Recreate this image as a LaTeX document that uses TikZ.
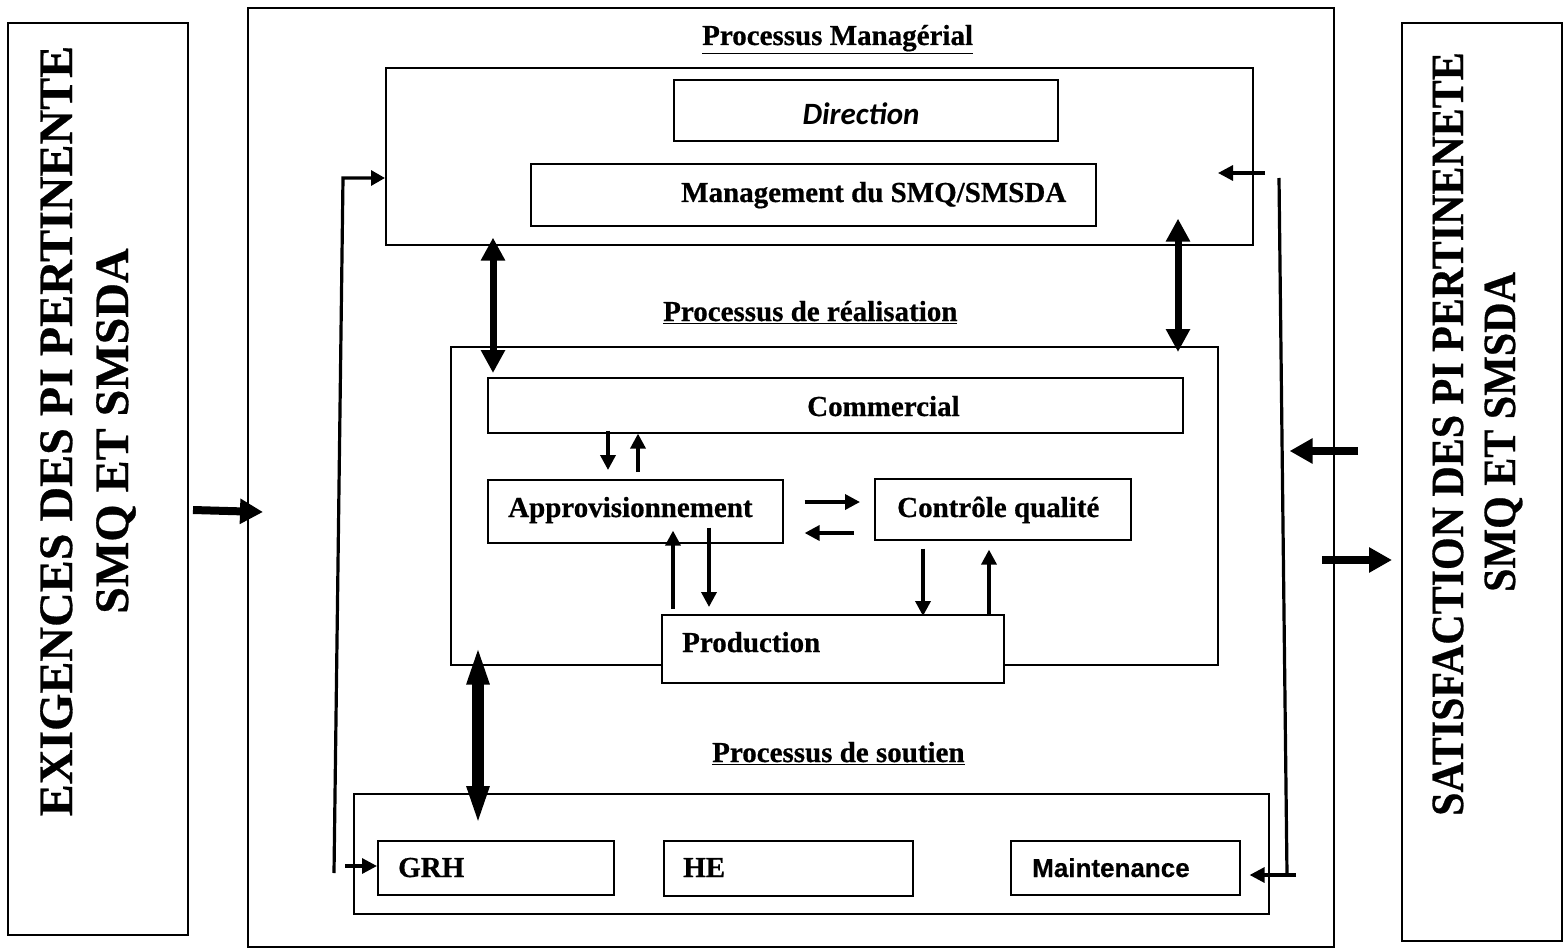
\documentclass[tikz,border=0pt]{standalone}
\usepackage{fontspec}
\setmainfont{Liberation Serif}[BoldFeatures={FakeBold=0.6}]
\newfontfamily\armsans{Liberation Sans}[BoldFeatures={FakeBold=0.4}]
\newfontfamily\calfont{Carlito}
\usetikzlibrary{arrows.meta}

\tikzset{
  frame/.style={draw, line width=1.6pt, fill=white, inner sep=0pt, anchor=north west},
  sideframe/.style={frame, line width=2.4pt},
  lbl/.style={font=\fontsize{29}{34}\selectfont\bfseries, inner sep=0pt, anchor=base west},
  sidetxt/.style={font=\fontsize{48}{56}\selectfont\bfseries, inner sep=0pt, anchor=base, rotate=90},
  sidetxtr/.style={font=\fontsize{42}{50}\selectfont\bfseries, inner sep=0pt, anchor=base, rotate=90},
  sarr/.style={line width=3.5pt, -{Triangle[length=15pt,width=15pt]}},
  farr/.style={line width=3.2pt, -{Triangle[length=15pt,width=15pt]}},
  fbline/.style={line width=3.2pt},
  marr/.style={line width=8pt, -{Triangle[length=23pt,width=24pt]}},
  dblarr/.style={line width=7pt, {Triangle[length=23pt,width=23pt]}-{Triangle[length=23pt,width=23pt]}},
  xdblarr/.style={line width=12pt, {Triangle[length=40pt,width=20pt]}-{Triangle[length=40pt,width=20pt]}},
}

\begin{document}
\begin{tikzpicture}[x=1pt,y=-1pt]
\useasboundingbox (0,0) rectangle (1568,952);

% outer frames
\node[sideframe, minimum width=180pt, minimum height=912pt] (left) at (7,22) {};
\node[frame, minimum width=1086pt, minimum height=939pt] (main) at (247,7) {};
\node[sideframe, minimum width=160pt, minimum height=918pt] (right) at (1401,22) {};

% managerial processes
\node[frame, minimum width=867pt, minimum height=177pt] (mgr) at (385,67) {};
\node[frame, minimum width=384pt, minimum height=61pt] (dir) at (673,79) {};
\node[frame, minimum width=565pt, minimum height=62pt] (mgmt) at (530,163) {};

% realisation processes
\node[frame, minimum width=767pt, minimum height=318pt] (real) at (450,346) {};
\node[frame, minimum width=695pt, minimum height=55pt] (comm) at (487,377) {};
\node[frame, minimum width=295pt, minimum height=63pt] (appro) at (487,479) {};
\node[frame, minimum width=256pt, minimum height=61pt] (cq) at (874,478) {};
\node[frame, minimum width=342pt, minimum height=68pt] (prod) at (661,614) {};

% support processes
\node[frame, minimum width=915pt, minimum height=120pt] (sout) at (353,793) {};
\node[frame, minimum width=236pt, minimum height=54pt] (grh) at (377,840) {};
\node[frame, minimum width=249pt, minimum height=55pt] (he) at (663,840) {};
\node[frame, minimum width=229pt, minimum height=54pt] (maint) at (1010,840) {};

% side texts
\node[sidetxt] (exig1) at (72,431) {EXIGENCES DES PI PERTINENTE};
\node[sidetxt] (exig2) at (128,431) {SMQ ET SMSDA};
\node[sidetxtr] (sat1) at (1463,434) {\scalebox{1}[1.1]{SATISFACTION DES PI PERTINENETE}};
\node[sidetxtr] (sat2) at (1515,432) {\scalebox{1}[1.1]{SMQ ET SMSDA}};

% titles and labels
\node[lbl] (tmgr) at (702,45) {\underline{Processus Managérial}};
\node[lbl, anchor=base, font=\fontsize{31}{36}\selectfont\calfont\bfseries\itshape] (tdir) at (861,125) {Direction};
\node[lbl] (tmgmt) at (681,202) {Management du SMQ/SMSDA};
\node[lbl] (treal) at (663,321) {\underline{Processus de réalisation}};
\node[lbl] (tcomm) at (807,416) {Commercial};
\node[lbl] (tappro) at (508,517) {Approvisionnement};
\node[lbl] (tcq) at (897,517) {Contrôle qualité};
\node[lbl] (tprod) at (682,652) {Production};
\node[lbl] (tsout) at (712,762) {\underline{Processus de soutien}};
\node[lbl] (tgrh) at (398,877) {GRH};
\node[lbl] (the) at (683,877) {HE};
\node[lbl, font=\fontsize{26}{30}\selectfont\armsans\bfseries] (tmaint) at (1032,877) {Maintenance};

% column helpers
\coordinate (cA) at (493,0);
\coordinate (cB) at (1178,0);
\coordinate (cC) at (478,0);

% links between process groups
\draw[dblarr] ([yshift=8pt]mgr.south -| cA) -- ([yshift=4pt]comm.north -| cA);
\draw[dblarr] ([yshift=27pt]mgr.south -| cB) -- ([yshift=-6pt]real.north -| cB);
\draw[xdblarr] ([yshift=21pt]real.south -| cC) -- ([yshift=-33pt]sout.north -| cC);

% commercial <-> approvisionnement
\draw[sarr] ([xshift=121pt,yshift=3pt]comm.south west) -- ([xshift=121pt,yshift=9pt]appro.north west);
\draw[sarr] ([xshift=151pt,yshift=7pt]appro.north west) -- ([xshift=151pt]comm.south west);

% approvisionnement <-> controle qualite
\draw[sarr] ([xshift=21pt,yshift=-23pt]appro.north east) -- ([xshift=-14pt,yshift=-24pt]cq.north west);
\draw[sarr] ([xshift=-20pt,yshift=-55pt]cq.north west) -- ([xshift=21pt,yshift=-54pt]appro.north east);

% approvisionnement <-> production
\draw[sarr] ([xshift=12pt,yshift=5pt]prod.north west) -- ([xshift=186pt,yshift=13pt]appro.south west);
\draw[sarr] ([xshift=222pt,yshift=16pt]appro.south west) -- ([xshift=48pt,yshift=7pt]prod.north west);

% controle qualite <-> production
\draw[sarr] ([xshift=49pt,yshift=-8pt]cq.south west) -- ([xshift=262pt,yshift=-2pt]prod.north west);
\draw[sarr] ([xshift=328pt]prod.north west) -- ([xshift=115pt,yshift=-9pt]cq.south west);

% feedback loop on the left
\coordinate (fl1) at (334,873);
\coordinate (fl2) at (343,178);
\coordinate (fl3) at (345,866);
\draw[fbline, -{Triangle[length=14pt,width=15pt]}, line join=miter] (fl1) -- (fl2) -- (fl2 -| mgr.west);
\draw[farr] (fl3) -- (fl3 -| grh.west);

% feedback loop on the right
\coordinate (fr1) at (1279,178);
\coordinate (fr2) at (1287,875);
\coordinate (fr3) at (1296,875);
\coordinate (fr4) at (1265,173);
\coordinate (fr5) at (1218,173);
\draw[fbline] (fr1) -- (fr2);
\draw[farr] (fr3) -- ([xshift=9pt]fr3 -| maint.east);
\draw[farr] (fr4) -- (fr5);

% inputs and outputs
\coordinate (sl) at (193,510);
\coordinate (sr1) at (1358,451);
\coordinate (sr2) at (1322,560);
\draw[marr] (sl) -- ([xshift=16pt,yshift=-2pt]sl -| main.west);
\draw[marr] (sr1) -- ([xshift=-45pt]sr1 -| main.east);
\draw[marr] (sr2) -- ([xshift=-9pt]sr2 -| right.west);
\end{tikzpicture}
\end{document}
